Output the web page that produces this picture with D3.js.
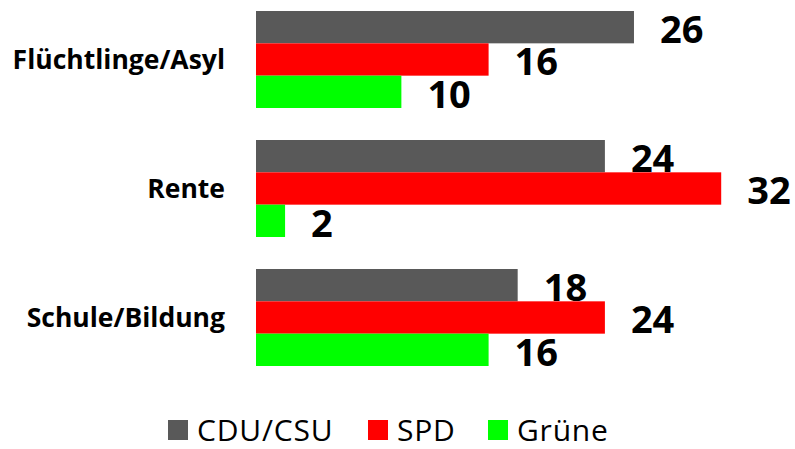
<!DOCTYPE html>
<html>
<head>
<meta charset="utf-8">
<script src="https://cdn.jsdelivr.net/npm/d3@7"></script>
<style>
  html, body { margin: 0; padding: 0; background: #fff; }
  svg { display: block; font-family: "Open Sans", "DejaVu Sans", sans-serif; }
</style>
</head>
<body>
<svg id="chart" width="795" height="449"></svg>
<script>
const categories = ["Flüchtlinge/Asyl", "Rente", "Schule/Bildung"];
const seriesNames = ["CDU/CSU", "SPD", "Grüne"];
const cduValues = [26, 24, 18];
const spdValues = [16, 32, 24];
const grueneValues = [10, 2, 16];
const seriesColors = ["#595959", "#ff0000", "#00ff00"];

const seriesValues = [cduValues, spdValues, grueneValues];
const data = categories.map((c, i) => ({
  category: c,
  values: seriesNames.map((s, j) => ({ series: s, value: seriesValues[j][i], color: seriesColors[j] }))
}));

const svg = d3.select("#chart");

const x = d3.scaleLinear().domain([0, 32]).range([256, 721.2]);
const y0 = d3.scaleBand().domain(categories).range([11, 366]).paddingInner(32 / 129).paddingOuter(0);
const y1 = d3.scaleBand().domain(seriesNames).range([0, y0.bandwidth()]).padding(0);

const groups = svg.selectAll("g.group").data(data).join("g")
  .attr("class", "group")
  .attr("transform", d => `translate(0,${y0(d.category)})`);

groups.selectAll("rect").data(d => d.values).join("rect")
  .attr("x", x(0))
  .attr("y", d => y1(d.series))
  .attr("width", d => x(d.value) - x(0))
  .attr("height", y1.bandwidth())
  .attr("fill", d => d.color);

groups.selectAll("text.val").data(d => d.values).join("text")
  .attr("class", "val")
  .attr("x", d => x(d.value) + 26)
  .attr("y", d => y1(d.series) + y1.bandwidth() / 2 + 2)
  .attr("dy", "0.36em")
  .attr("font-size", 38)
  .attr("font-weight", "bold")
  .attr("fill", "#000")
  .text(d => d.value);

// category axis labels
const yAxis = d3.axisLeft(y0).tickSize(0).tickPadding(31);
const axisG = svg.append("g").attr("transform", `translate(${x(0)},0)`).call(yAxis);
axisG.select(".domain").remove();
axisG.selectAll("text")
  .attr("font-size", 26.5)
  .attr("font-weight", "bold")
  .attr("font-family", '"Open Sans", sans-serif')
  .attr("fill", "#000")
  .attr("dy", "0.36em");

// legend
const legendX = [168, 368, 488];
const legend = svg.append("g").selectAll("g").data(seriesNames).join("g")
  .attr("transform", (d, i) => `translate(${legendX[i]},420)`);
legend.append("rect")
  .attr("width", 20).attr("height", 20)
  .attr("fill", (d, i) => seriesColors[i]);
legend.append("text")
  .attr("x", 29).attr("y", 10).attr("dy", "0.36em")
  .attr("font-size", 30)
  .attr("letter-spacing", 0.8)
  .attr("fill", "#000")
  .text(d => d);
</script>
</body>
</html>
